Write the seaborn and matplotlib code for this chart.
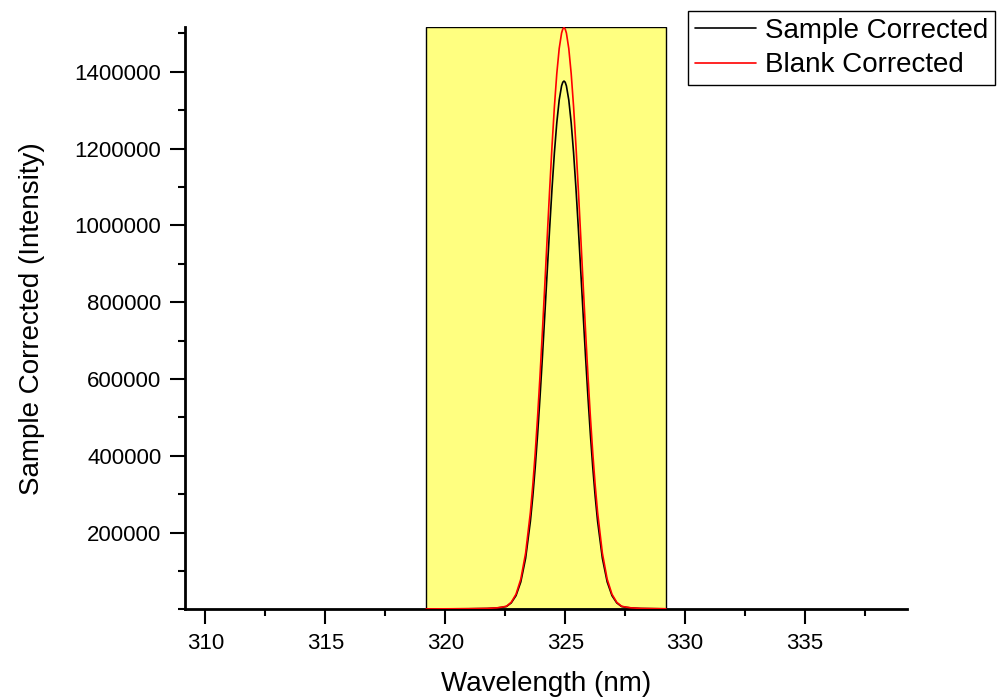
import numpy as np
import pandas as pd
import matplotlib
matplotlib.use("Agg")
import matplotlib.pyplot as plt
from matplotlib.ticker import MultipleLocator, FixedLocator
import seaborn as sns

# ---- data ----
wavelength = [319.20, 320.95, 321.75, 322.15, 322.35, 322.55, 322.75, 322.95,
              323.15, 323.35, 323.55, 323.65, 323.75, 323.85, 323.95, 324.05,
              324.15, 324.25, 324.35, 324.45, 324.55, 324.65, 324.75, 324.85,
              324.90, 324.95, 325.00, 325.05, 325.15, 325.25, 325.35, 325.45,
              325.55, 325.65, 325.75, 325.85, 325.95, 326.05, 326.15, 326.25,
              326.35, 326.55, 326.75, 326.95, 327.15, 327.35, 327.55, 327.75,
              328.15, 328.95, 329.20]
sample_corrected = [800, 1400, 2100, 3400, 5000, 7200, 16600, 35600,
                    71400, 132900, 229800, 294100, 369500, 455800, 552200, 656700,
                    767100, 879600, 990400, 1095200, 1189000, 1267400, 1326600, 1363500,
                    1372900, 1376000, 1372900, 1363500, 1326600, 1267400, 1189000, 1095200,
                    990400, 879600, 767100, 656700, 552200, 455800, 369500, 294100,
                    229800, 132900, 71400, 35600, 16600, 7200, 5000, 3400,
                    2100, 1400, 1200]
blank_corrected = [900, 1500, 2300, 3700, 5500, 7900, 18200, 39200,
                   78600, 146300, 253000, 323800, 406800, 501900, 608000, 723100,
                   844600, 968500, 1090500, 1205800, 1309100, 1395500, 1460600, 1501200,
                   1511500, 1515000, 1511500, 1501200, 1460600, 1395500, 1309100, 1205800,
                   1090500, 968500, 844600, 723100, 608000, 501900, 406800, 323800,
                   253000, 146300, 78600, 39200, 18200, 7900, 5500, 3700,
                   2300, 1500, 1300]
series_names = ["Sample Corrected", "Blank Corrected"]
series_colors = ["#000000", "#FF0000"]
highlight_range = [319.2, 329.2]
x_ticks = [310, 315, 320, 325, 330, 335]
y_ticks = [200000, 400000, 600000, 800000, 1000000, 1200000, 1400000]

df = pd.DataFrame({
    "Wavelength (nm)": wavelength * 2,
    "Intensity": sample_corrected + blank_corrected,
    "Series": [series_names[0]] * len(wavelength) + [series_names[1]] * len(wavelength),
})

sns.set_style("ticks")
plt.rcParams["font.family"] = ["Liberation Sans", "DejaVu Sans"]
plt.rcParams["text.color"] = "black"
plt.rcParams["axes.labelcolor"] = "black"
plt.rcParams["xtick.color"] = "black"
plt.rcParams["ytick.color"] = "black"

fig = plt.figure(figsize=(10, 7), dpi=100)
ax = fig.add_axes([0.185, 0.1296, 0.722, 0.8314])

ax.axvspan(highlight_range[0], highlight_range[1], facecolor="#FFFF80",
           edgecolor="black", linewidth=1.0, zorder=0)

sns.lineplot(data=df, x="Wavelength (nm)", y="Intensity", hue="Series",
             palette=dict(zip(series_names, series_colors)), linewidth=1.2,
             ax=ax, legend=False, zorder=3)

ax.set_xlim(309.15, 339.25)
ax.set_ylim(0, 1516000)

ax.xaxis.set_major_locator(FixedLocator(x_ticks))
ax.xaxis.set_minor_locator(MultipleLocator(2.5))
ax.yaxis.set_major_locator(FixedLocator(y_ticks))
ax.yaxis.set_minor_locator(MultipleLocator(100000))
ax.set_xticklabels([str(t) for t in x_ticks])
ax.set_yticklabels([str(t) for t in y_ticks])

ax.tick_params(axis="both", which="major", direction="out", length=11, width=1.5,
               labelsize=16, pad=6, color="black", labelcolor="black")
ax.tick_params(axis="both", which="minor", direction="out", length=5, width=1.5,
               color="black")

for s in ["top", "right"]:
    ax.spines[s].set_visible(False)
for s in ["left", "bottom"]:
    ax.spines[s].set_linewidth(2)
    ax.spines[s].set_color("black")

ax.set_xlabel("Wavelength (nm)", fontsize=20, labelpad=12, color="black")
ax.set_ylabel("Sample Corrected (Intensity)", fontsize=20, labelpad=21, color="black")

handles = [plt.Line2D([], [], color=c, linewidth=1.2) for c in series_colors]
leg = fig.legend(handles, series_names, loc="upper right",
                 bbox_to_anchor=(0.995, 1 - 11 / 700), fontsize=20,
                 frameon=True, fancybox=False, shadow=False, framealpha=1,
                 edgecolor="black", handlelength=2.2, handletextpad=0.3,
                 labelspacing=0.3, borderpad=0.25, borderaxespad=0)
leg.get_frame().set_linewidth(1.0)
for t in leg.get_texts():
    t.set_color("black")

fig.savefig("out.png", dpi=100)
